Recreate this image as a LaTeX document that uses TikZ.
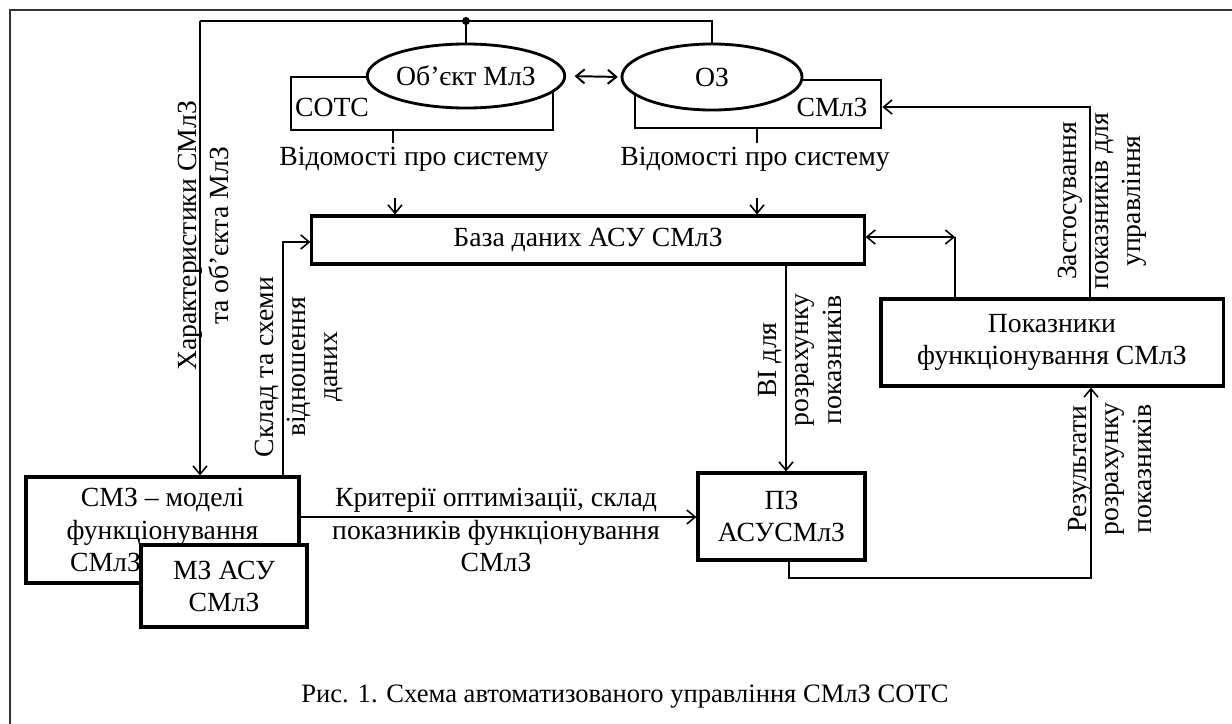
\documentclass[tikz,border=0pt]{standalone}
\usepackage{fontspec}
\setmainfont{Liberation Serif}
\usetikzlibrary{arrows.meta,shapes.geometric}

\begin{document}
\begin{tikzpicture}[x=0.025cm,y=-0.025cm,
  every node/.style={font=\fontsize{19.7}{22.8}\selectfont, inner sep=0pt, align=center},
  box/.style={draw, line width=2.2pt, fill=white},
  oval/.style={draw, ellipse, line width=2pt, fill=white},
  arr/.style={line width=1.1pt, -{Straight Barb[length=6pt,width=10pt]}},
  dbl/.style={line width=1.1pt, {Straight Barb[length=6pt,width=10pt]}-{Straight Barb[length=6pt,width=10pt]}},
  vlabel/.style={rotate=90}]
  \useasboundingbox (0,0) rectangle (1232,724);
  \draw[black!80, line width=1pt] (10,724) -- (10,10) -- (1232,10);

  % objects at the top
  \node[box, line width=2pt, minimum width=6.55cm, minimum height=1.325cm] (cots) at (422,103.5) {};
  \node at (332,107) {СОТС};
  \node[oval, minimum width=4.7cm, minimum height=1.6cm] (ob) at (466,76) {Об’єкт МлЗ};
  \node[box, line width=2pt, minimum width=6.15cm, minimum height=1.2cm] (sml) at (758,104) {};
  \node at (832,107) {СМлЗ};
  \node[oval, minimum width=4.5cm, minimum height=1.65cm] (oz) at (712,77) {ОЗ};

  % main blocks
  \node[box, minimum width=13.8cm, minimum height=1.2cm] (bd) at (588,240) {База даних АСУ СМлЗ};
  \node[box, minimum width=8.55cm, minimum height=2.175cm] (pok) at (1052,342.5) {Показники\\функціонування СМлЗ};
  \node[box, minimum width=4.175cm, minimum height=2.175cm] (pz) at (781.5,516.5) {ПЗ\\АСУСМлЗ};
  \node[box, minimum width=6.825cm, minimum height=2.65cm] (smz) at (162.5,530) {СМЗ – моделі\\функціонування\\СМлЗ\hspace*{2.85cm}};
  \node[box, minimum width=4.15cm, minimum height=2.05cm] (mz) at (224,586) {МЗ АСУ\\СМлЗ};

  % labels
  \node (inf1) at (414,159) {Відомості про систему};
  \node (inf2) at (755,159) {Відомості про систему};
  \node[vlabel] (hr) at (203,236) {Характеристики СМлЗ\\та об’єкта МлЗ};
  \node[vlabel] (skd) at (299,367) {Склад та схеми\\відношення\\даних};
  \node[vlabel] (vil) at (800,360) {ВІ для\\розрахунку\\показників};
  \node[vlabel] (zst) at (1102,201) {Застосування\\показників для\\управління};
  \node[vlabel] (rez) at (1110,469) {Результати\\розрахунку\\показників};
  \node (krt) at (496,530) {Критерії оптимізації, склад\\показників функціонування\\СМлЗ};
  \node[font=\fontsize{18.9}{22}\selectfont] (cap) at (625,697) {Рис. 1. Схема автоматизованого управління СМлЗ СОТС};

  % connectors
  \coordinate (tl) at (200,21);
  \coordinate (dot) at (ob.north |- tl);
  \draw[line width=1.1pt] (oz.north) |- (tl);
  \draw[arr] (tl) -- (tl |- smz.north);
  \fill (dot) circle (4);
  \draw[line width=1.1pt] (dot) -- (ob.north);
  \draw[dbl, line width=1.4pt, shorten <=6pt, shorten >=2pt] (ob.east) -- (oz.west);

  \coordinate (v1) at (393,143);
  \coordinate (v2) at (757,143);
  \draw[line width=1.1pt] (v1 |- cots.south) -- (v1);
  \draw[line width=1.1pt] (v2 |- sml.south) -- (v2);
  \coordinate (a1) at (395,198);
  \coordinate (a2) at (757,198);
  \draw[arr] (a1) -- (a1 |- bd.north);
  \draw[arr] (a2) -- (a2 |- bd.north);

  \coordinate (skl) at (283,242);
  \draw[arr] (skl |- smz.north) -- (skl) -- (bd.west |- skl);
  \coordinate (pj) at (955,237);
  \draw[dbl] (bd.east |- pj) -- (pj);
  \draw[line width=1.1pt] (pj) -- (pj |- pok.north);
  \coordinate (zs) at (1090,107);
  \draw[arr] (zs |- pok.north) -- (zs) -- (sml.east |- zs);
  \coordinate (vi) at (786,360);
  \draw[arr] (vi |- bd.south) -- (vi |- pz.north);
  \coordinate (rb) at (789,578);
  \coordinate (rz) at (1091,578);
  \draw[arr] (rb |- pz.south) -- (rb) -- (rz) -- (rz |- pok.south);
  \coordinate (kl) at (496,517);
  \draw[arr] (smz.east |- kl) -- (pz.west |- kl);
\end{tikzpicture}
\end{document}
